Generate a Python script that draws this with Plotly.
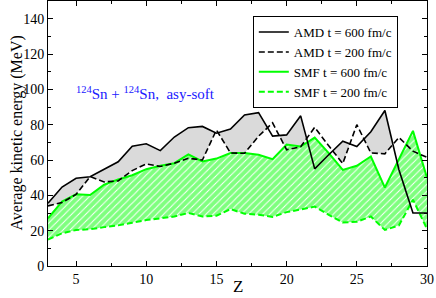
import plotly.graph_objects as go

Z = list(range(3, 31))
amd_600 = [35.5, 44.7, 49.7, 50.5, 54.8, 59.0, 67.8, 69.2, 65.3, 73.0, 78.3, 79.0, 75.2, 77.5,
           85.5, 86.8, 73.5, 74.2, 85.0, 55.0, 63.0, 70.6, 67.6, 76.0, 88.0, 54.5, 30.0, 30.0]
amd_200 = [34.0, 35.9, 40.5, 50.6, 47.6, 48.2, 54.0, 57.8, 56.3, 58.2, 61.0, 60.0, 77.0, 64.0,
           63.8, 73.5, 81.0, 65.8, 67.5, 78.5, 68.0, 58.0, 80.0, 64.0, 63.5, 72.8, 65.0, 61.5]
smf_600 = [27.0, 36.5, 40.6, 40.2, 46.0, 49.0, 51.4, 54.8, 56.7, 58.2, 63.2, 59.2, 60.8, 63.9,
           63.9, 63.0, 60.5, 68.7, 67.6, 72.7, 63.9, 54.4, 56.7, 62.0, 44.4, 60.0, 76.5, 50.0]
smf_200 = [15.0, 18.5, 20.4, 20.8, 22.0, 23.0, 24.5, 26.0, 27.0, 28.0, 30.0, 28.0, 28.5, 32.2,
           29.6, 29.0, 27.8, 30.5, 32.0, 33.6, 29.0, 24.6, 25.0, 28.0, 20.4, 23.0, 37.5, 21.0]

names = ["AMD t = 600 fm/c", "AMD t = 200 fm/c", "SMF t = 600 fm/c", "SMF t = 200 fm/c"]
GREEN = "#00ff00"
GRAY = "#dadada"

fig = go.Figure()
# filled areas
fig.add_trace(go.Scatter(x=Z, y=amd_600, mode="lines", line=dict(width=0), fill="tozeroy",
                         fillcolor=GRAY, showlegend=False, hoverinfo="skip"))
fig.add_trace(go.Scatter(x=Z, y=amd_200, mode="lines", line=dict(width=0), fill="tozeroy",
                         fillcolor="white", showlegend=False, hoverinfo="skip"))
fig.add_trace(go.Scatter(x=Z, y=smf_200, mode="lines", line=dict(width=0),
                         showlegend=False, hoverinfo="skip"))
fig.add_trace(go.Scatter(x=Z, y=smf_600, mode="lines", line=dict(width=0), fill="tonexty",
                         fillpattern=dict(shape="/", fgcolor=GREEN, bgcolor="white",
                                          size=5, solidity=0.8),
                         showlegend=False, hoverinfo="skip"))
# lines
fig.add_trace(go.Scatter(x=Z, y=smf_600, mode="lines", name=names[2], legendrank=3,
                         line=dict(color=GREEN, width=2)))
fig.add_trace(go.Scatter(x=Z, y=smf_200, mode="lines", name=names[3], legendrank=4,
                         line=dict(color=GREEN, width=2, dash="6px,3px")))
fig.add_trace(go.Scatter(x=Z, y=amd_600, mode="lines", name=names[0], legendrank=1,
                         line=dict(color="black", width=1.6)))
fig.add_trace(go.Scatter(x=Z, y=amd_200, mode="lines", name=names[1], legendrank=2,
                         line=dict(color="black", width=1.6, dash="6px,3px")))

serif = "Liberation Serif"
axis_common = dict(showline=True, linecolor="black", linewidth=1, mirror="allticks",
                   ticks="inside", ticklen=5, tickcolor="black", showgrid=False,
                   zeroline=False, tickfont=dict(family=serif, size=14, color="black"))
fig.update_xaxes(range=[3, 30], tick0=0, dtick=5,
                 minor=dict(ticks="inside", ticklen=3, dtick=2.5, tick0=0, tickcolor="black"),
                 **axis_common)
fig.update_yaxes(range=[0, 150], tick0=0, dtick=20,
                 minor=dict(ticks="inside", ticklen=3, dtick=10, tick0=0, tickcolor="black"),
                 **axis_common)

# axis titles
fig.add_annotation(x=0.5, y=0, xref="paper", yref="paper", xanchor="center", yanchor="bottom",
                   yshift=-32, text="Z", showarrow=False,
                   font=dict(family=serif, size=17, color="black"))
fig.add_annotation(x=0, y=0.5, xref="paper", yref="paper", xanchor="center", yanchor="middle",
                   xshift=-32, textangle=-90, text="Average kinetic energy (MeV)",
                   showarrow=False, font=dict(family=serif, size=16, color="black"))
fig.add_annotation(x=4.85, y=98, xref="x", yref="y", xanchor="left", yanchor="middle",
                   text="<sup>124</sup>Sn + <sup>124</sup>Sn,  asy-soft", showarrow=False,
                   font=dict(family=serif, size=15, color="#2020ff"))

fig.update_layout(
    width=436, height=298,
    margin=dict(l=48, r=9, t=1, b=32),
    paper_bgcolor="white", plot_bgcolor="white",
    font=dict(family=serif, color="black"),
    showlegend=True,
    legend=dict(x=0.923, y=0.943, xanchor="right", yanchor="top", traceorder="normal",
                bordercolor="black", borderwidth=1, bgcolor="white",
                font=dict(family=serif, size=13, color="black"),
                itemwidth=30, tracegroupgap=0),
)

fig.write_html("out.html", config={"displayModeBar": False},
               post_script="document.body.style.margin='0';document.body.style.padding='0';")
